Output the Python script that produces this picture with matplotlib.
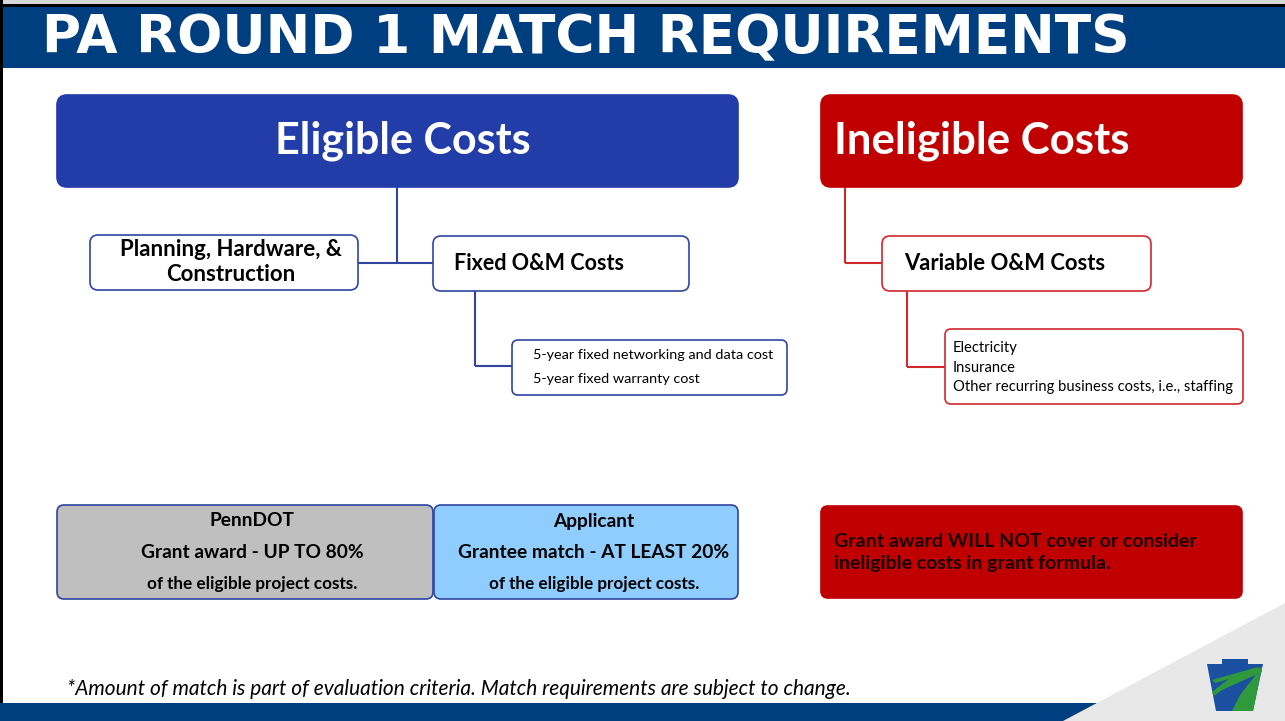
import matplotlib
matplotlib.use("Agg")
import matplotlib.pyplot as plt
from matplotlib.patches import FancyBboxPatch, Polygon, Rectangle

# ---- content ----
title = "PA ROUND 1 MATCH REQUIREMENTS"
eligible_header = "Eligible Costs"
ineligible_header = "Ineligible Costs"
eligible_children = ["Planning, Hardware, &\nConstruction", "Fixed O&M Costs"]
fixed_items = ["5-year fixed networking and data cost", "5-year fixed warranty cost"]
ineligible_child = "Variable O&M Costs"
variable_items = ["Electricity", "Insurance", "Other recurring business costs, i.e., staffing"]
penndot_lines = ["PennDOT", "Grant award - UP TO 80%", "of the eligible project costs."]
applicant_lines = ["Applicant", "Grantee match - AT LEAST 20%", "of the eligible project costs."]
ineligible_note = "Grant award WILL NOT cover or consider\nineligible costs in grant formula."
footnote = "*Amount of match is part of evaluation criteria. Match requirements are subject to change."

BLUE_BAR = "#003F7F"
BLUE_HDR = "#223CA8"
BLUE_EDGE = "#2F45A0"
RED = "#C00000"
RED_EDGE = "#D0282C"
GREY_BOX = "#BFBFBF"
LIGHT_BLUE = "#8FCDFF"

W, H = 1285, 721
fig = plt.figure(figsize=(W / 100, H / 100), dpi=100)
ax = fig.add_axes([0, 0, 1, 1])
ax.set_xlim(0, W)
ax.set_ylim(H, 0)
ax.axis("off")

FONT = "Lato"


def rbox(x0, y0, x1, y1, fc, ec, lw=1.2, r=8, z=2):
    p = FancyBboxPatch((x0, y0), x1 - x0, y1 - y0,
                       boxstyle=f"round,pad=0,rounding_size={r}",
                       fc=fc, ec=ec, lw=lw, zorder=z)
    ax.add_patch(p)


def line(xs, ys, c, lw=1.5):
    ax.plot(xs, ys, color=c, lw=lw, zorder=1, solid_capstyle="butt")


# frame elements
ax.add_patch(Rectangle((0, 0), W, 4, fc="#D8D8D8", ec="none", zorder=0))
ax.add_patch(Rectangle((0, 4), W, 3, fc="black", ec="none", zorder=0))
ax.add_patch(Rectangle((0, 7), W, 61, fc=BLUE_BAR, ec="none", zorder=0))
ax.add_patch(Rectangle((0, 0), 3, H, fc="black", ec="none", zorder=0))
ax.add_patch(Rectangle((0, 703), 1110, 18, fc=BLUE_BAR, ec="none", zorder=0))
ax.add_patch(Polygon([(1063, 721), (1285, 603), (1285, 721)], closed=True,
                     fc="#E8E8E8", ec="none", zorder=0.5))

ax.text(42, 53, title, color="white", fontsize=38.4, fontweight="bold",
        family="DejaVu Sans", ha="left", va="baseline", zorder=3)

# headers
rbox(57, 95, 738, 187, BLUE_HDR, BLUE_HDR, r=10)
ax.text(403, 141, eligible_header, color="white", fontsize=31, fontweight="bold",
        family=FONT, ha="center", va="center", zorder=3)
rbox(821, 95, 1242, 187, RED, RED, r=10)
ax.text(834, 141, ineligible_header, color="white", fontsize=31.5, fontweight="bold",
        family=FONT, ha="left", va="center", zorder=3)

# eligible tree
line([397, 397], [187, 263], BLUE_EDGE)
line([358, 433], [263, 263], BLUE_EDGE)
rbox(90, 235, 358, 290, "white", BLUE_EDGE)
ax.text(231, 262, eligible_children[0], color="black", fontsize=16, fontweight="bold",
        family=FONT, ha="center", va="center", linespacing=1.2, zorder=3)
rbox(433, 236, 689, 291, "white", BLUE_EDGE)
ax.text(454, 263, eligible_children[1], color="black", fontsize=15.5, fontweight="bold",
        family=FONT, ha="left", va="center", zorder=3)

line([475, 475], [291, 366], BLUE_EDGE)
line([475, 512], [366, 366], BLUE_EDGE)
rbox(512, 340, 787, 395, "white", BLUE_EDGE, r=6)
for i, t in enumerate(fixed_items):
    ax.text(533, 355 + 24 * i, t, color="black", fontsize=10.4,
            family=FONT, ha="left", va="center", zorder=3)

# ineligible tree
line([845, 845], [187, 263], RED_EDGE)
line([845, 882], [263, 263], RED_EDGE)
rbox(882, 236, 1151, 291, "white", RED_EDGE)
ax.text(904, 263, ineligible_child, color="black", fontsize=15.8, fontweight="bold",
        family=FONT, ha="left", va="center", zorder=3)

line([907, 907], [291, 367], RED_EDGE)
line([907, 945], [367, 367], RED_EDGE)
rbox(945, 329, 1243, 404, "white", RED_EDGE, r=6)
for i, t in enumerate(variable_items):
    ax.text(953, 348 + 19.5 * i, t, color="black", fontsize=10.6,
            family=FONT, ha="left", va="center", zorder=3)

# bottom boxes
rbox(57, 505, 433, 599, GREY_BOX, BLUE_EDGE, r=7)
rbox(434, 505, 738, 599, LIGHT_BLUE, BLUE_EDGE, r=7)
sizes = [13.8, 13.8, 12.3]
ys = [521, 553, 584]
for lines_, cx in ((penndot_lines, 252), (applicant_lines, 594)):
    for t, y, s in zip(lines_, ys, sizes):
        ax.text(cx, y, t, color="black", fontsize=s, fontweight="bold",
                family=FONT, ha="center", va="center", zorder=3)

rbox(821, 506, 1242, 598, RED, RED, r=7)
ax.text(834, 552.5, ineligible_note, color="#1A0000", fontsize=14, fontweight="bold",
        family=FONT, ha="left", va="center", linespacing=1.38, zorder=3)

# footnote
ax.text(67, 689, footnote, color="black", fontsize=15, style="italic",
        family=FONT, ha="left", va="center", zorder=3)

# keystone logo (simplified)
key = [(1222, 659), (1248, 659), (1248, 664), (1263, 664), (1253, 711),
       (1216, 711), (1207, 664), (1222, 664)]
ax.add_patch(Polygon(key, closed=True, fc="#1B4FA0", ec="none", zorder=3))
ax.add_patch(Polygon([(1262, 667), (1253, 711), (1232, 711), (1240, 695)],
                     closed=True, fc="#2E9A3C", ec="none", zorder=3.1))
ax.add_patch(Polygon([(1262, 667), (1262, 672), (1222, 690), (1214, 696), (1212, 692), (1230, 678)],
                     closed=True, fc="#2E9A3C", ec="none", zorder=3.1))
ax.add_patch(Polygon([(1258, 667), (1260, 670), (1215, 683), (1212, 680)],
                     closed=True, fc="#2E9A3C", ec="none", zorder=3.1))

fig.savefig("out.png", dpi=100)
